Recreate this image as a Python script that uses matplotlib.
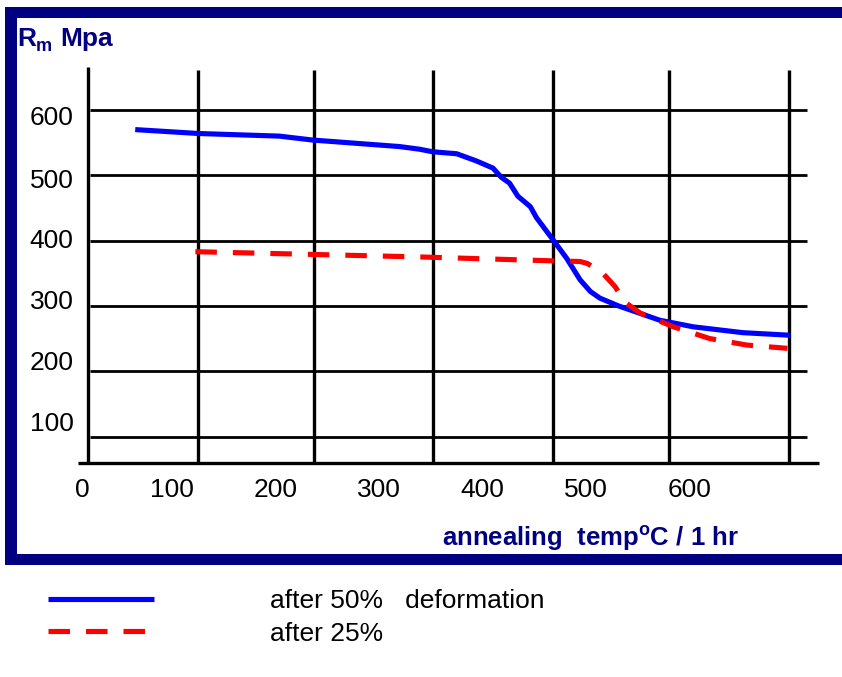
import matplotlib
matplotlib.use("Agg")
import matplotlib.pyplot as plt
from matplotlib.patches import Rectangle

plt.rcParams['font.family'] = ['Liberation Sans', 'DejaVu Sans']
plt.rcParams['lines.scale_dashes'] = False
plt.rcParams['mathtext.default'] = 'regular'

# ---------------- data ----------------
blue_temp = [65, 126, 204, 236, 320, 339, 352, 375, 394, 410, 418, 426, 434,
             446, 452, 468, 481, 494, 504, 513, 531, 571, 603, 651, 697]
blue_rm = [570, 564, 560, 554, 544, 540, 536, 533, 522, 511, 497, 488, 468,
           452, 435, 401, 373, 340, 322, 312, 300, 278, 268, 259, 255]
red_temp = [123, 204, 339, 468, 494, 501, 516, 528, 537, 552, 584, 619, 655, 694]
red_rm = [383, 380, 375, 369, 368, 365, 350, 329, 306, 289, 268, 250, 240, 235]

series_labels = ["after 50%   deformation", "after 25%"]
x_tick_labels = ["0", "100", "200", "300", "400", "500", "600"]
x_tick_pos = [14, 100, 200, 300, 400, 500, 600]
y_tick_labels = ["600", "500", "400", "300", "200", "100"]
y_tick_pos = [592, 495, 403, 310, 217, 123]
hgrid_vals = [600, 500, 400, 300, 200, 100]
vgrid_vals = [126, 237, 352, 468, 580, 695]
axis_x = 19.5
y_label_text = "R"
y_label_sub = "m"
y_label_unit = "Mpa"
x_label_text = r"annealing  temp$^{o}$C / 1 hr"

# ---------------- figure ----------------
W, H = 842, 677
fig = plt.figure(figsize=(W / 100, H / 100), dpi=100)
NAVY = '#000080'

def fx(px):
    return px / W

def fy(py):
    return 1 - py / H

# navy frame
for (x0, y0, w, h) in [(5, 7, 842, 11), (5, 7, 12, 558), (5, 554, 842, 11)]:
    fig.patches.append(Rectangle((fx(x0), fy(y0 + h)), w / W, h / H,
                                 transform=fig.transFigure, color=NAVY, lw=0))

# axes: pixel box left 75, right 830, top 60, bottom 463
L, R, T, B = 75, 830, 60, 463
ax = fig.add_axes([fx(L), fy(B), (R - L) / W, (B - T) / H])
ax.set_xlim((L - 67.8) / 1.037, (R - 67.8) / 1.037)
ax.set_ylim(600 - (B - 110) / 0.653, 600 - (T - 110) / 0.653)
for s in ax.spines.values():
    s.set_visible(False)
ax.patch.set_alpha(0)

ytop = 600 + 40 / 0.653
ybot = ax.get_ylim()[0]
# horizontal grid lines
ax.hlines(hgrid_vals, 21, 713, colors='black', lw=2.0, zorder=1)
# vertical grid lines
ax.vlines(vgrid_vals, ybot, ytop, colors='black', lw=2.4, zorder=1, clip_on=False)
ax.vlines([axis_x], ybot, ytop + 4, colors='black', lw=2.4, zorder=1, clip_on=False)
# bottom axis line
ax.hlines([ybot], 10, 724, colors='black', lw=2.4, zorder=1, clip_on=False)

l1, = ax.plot(blue_temp, blue_rm, color='#0000FF', lw=3.7, zorder=3,
              solid_joinstyle='round', solid_capstyle='butt')
l2, = ax.plot(red_temp, red_rm, color='#FF0000', lw=3.7, zorder=3,
              linestyle=(0, (15.5, 11.5)), dash_capstyle='butt')

ax.set_xticks(x_tick_pos, x_tick_labels)
ax.set_yticks(y_tick_pos, y_tick_labels)
ax.tick_params(axis='both', length=0, labelsize=19, colors='black')
ax.tick_params(axis='x', pad=11)
ax.tick_params(axis='y', pad=1)

# axis titles
fig.text(fx(17), fy(46), y_label_text, color=NAVY, fontsize=19,
         fontweight='bold', ha='left', va='baseline')
fig.text(fx(36), fy(51), y_label_sub, color=NAVY, fontsize=13,
         fontweight='bold', ha='left', va='baseline')
fig.text(fx(60), fy(46), y_label_unit, color=NAVY, fontsize=19,
         fontweight='bold', ha='left', va='baseline')
fig.text(fx(442), fy(546), x_label_text, color=NAVY, fontsize=18.5,
         fontweight='bold', ha='left', va='baseline')

# legend
fig.legend([l1, l2], series_labels, loc='upper left',
           bbox_to_anchor=(fx(48), fy(589)), bbox_transform=fig.transFigure,
           frameon=False, borderpad=0, borderaxespad=0, handlelength=4.0,
           handletextpad=4.4, labelspacing=0.33, prop={'size': 19})

fig.savefig('out.png', dpi=100)
